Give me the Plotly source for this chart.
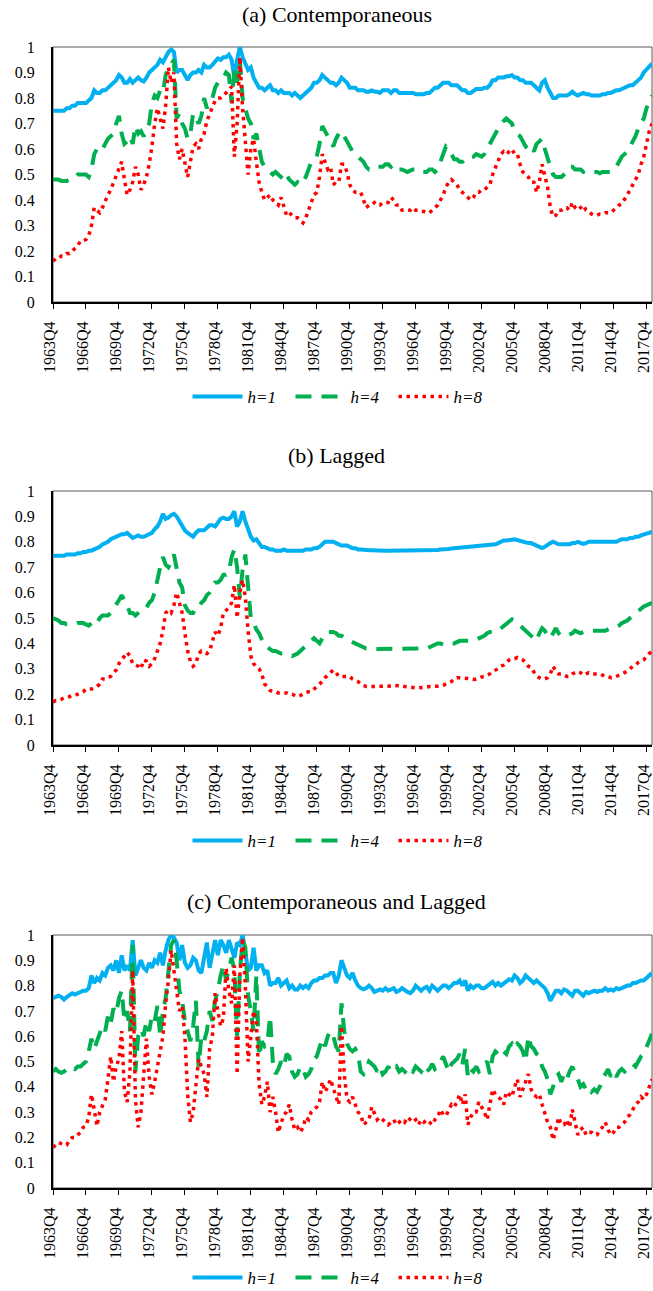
import plotly.graph_objects as go

# ---------------- data (quarterly, 1963Q4 .. 2018Q2) ----------------
tick_labels = ["1963Q4", "1966Q4", "1969Q4", "1972Q4", "1975Q4", "1978Q4", "1981Q4",
               "1984Q4", "1987Q4", "1990Q4", "1993Q4", "1996Q4", "1999Q4", "2002Q4",
               "2005Q4", "2008Q4", "2011Q4", "2014Q4", "2017Q4"]
series_names = ["<i>h=1</i>", "<i>h=4</i>", "<i>h=8</i>"]
panel_titles = ["(a) Contemporaneous", "(b) Lagged", "(c) Contemporaneous and Lagged"]

a_h1 = [0.75,0.75,0.75,0.75,0.75,0.76,0.76,0.77,0.77,0.78,0.78,0.78,
        0.78,0.79,0.80,0.83,0.82,0.82,0.83,0.83,0.84,0.85,0.86,0.87,
        0.89,0.88,0.86,0.86,0.875,0.86,0.87,0.88,0.87,0.865,0.88,0.90,
        0.91,0.92,0.93,0.95,0.94,0.96,0.98,0.99,0.98,0.90,0.91,0.91,
        0.89,0.87,0.89,0.90,0.90,0.91,0.90,0.93,0.92,0.92,0.93,0.94,
        0.955,0.95,0.96,0.96,0.97,0.95,0.88,0.95,1.00,0.96,0.93,0.91,
        0.92,0.88,0.86,0.84,0.84,0.83,0.84,0.85,0.83,0.83,0.82,0.83,
        0.82,0.82,0.82,0.81,0.82,0.81,0.80,0.81,0.82,0.83,0.84,0.86,
        0.86,0.87,0.89,0.88,0.87,0.86,0.86,0.85,0.86,0.88,0.87,0.86,
        0.84,0.84,0.84,0.83,0.83,0.83,0.825,0.825,0.83,0.825,0.825,0.82,
        0.83,0.83,0.83,0.82,0.83,0.83,0.82,0.82,0.82,0.82,0.82,0.82,
        0.815,0.815,0.815,0.815,0.82,0.82,0.83,0.84,0.84,0.85,0.86,0.86,
        0.86,0.85,0.85,0.85,0.84,0.83,0.83,0.82,0.82,0.83,0.835,0.835,
        0.835,0.84,0.84,0.85,0.87,0.87,0.88,0.88,0.88,0.885,0.885,0.89,
        0.88,0.88,0.87,0.87,0.86,0.86,0.86,0.85,0.84,0.83,0.86,0.87,
        0.84,0.82,0.80,0.80,0.81,0.81,0.81,0.81,0.815,0.825,0.815,0.81,
        0.815,0.82,0.815,0.815,0.81,0.81,0.81,0.81,0.815,0.815,0.82,0.82,
        0.825,0.83,0.83,0.835,0.84,0.845,0.85,0.85,0.86,0.87,0.88,0.90,
        0.91,0.92,0.935]

a_h4 = [0.48,0.48,0.48,0.475,0.475,0.475,0.48,0.49,0.49,0.50,0.50,0.50,
        0.50,0.49,0.52,0.58,0.60,0.61,0.60,0.62,0.64,0.65,0.66,0.70,
        0.73,0.66,0.62,0.63,0.65,0.62,0.69,0.66,0.67,0.65,0.67,0.70,
        0.78,0.81,0.80,0.83,0.82,0.89,0.92,0.93,0.95,0.72,0.74,0.70,
        0.68,0.64,0.66,0.74,0.72,0.70,0.73,0.80,0.76,0.78,0.80,0.84,
        0.86,0.87,0.88,0.90,0.89,0.78,0.91,0.86,0.95,0.80,0.76,0.72,
        0.70,0.64,0.66,0.60,0.55,0.53,0.52,0.51,0.50,0.51,0.50,0.49,
        0.48,0.50,0.48,0.47,0.46,0.47,0.46,0.47,0.49,0.52,0.55,0.56,
        0.57,0.62,0.69,0.67,0.65,0.63,0.61,0.64,0.66,0.67,0.65,0.63,
        0.61,0.59,0.58,0.57,0.56,0.55,0.53,0.52,0.52,0.52,0.53,0.53,
        0.53,0.54,0.54,0.53,0.54,0.53,0.52,0.52,0.515,0.51,0.515,0.52,
        0.52,0.51,0.51,0.51,0.51,0.52,0.52,0.51,0.52,0.55,0.58,0.61,
        0.60,0.58,0.56,0.56,0.55,0.55,0.56,0.56,0.57,0.57,0.58,0.575,
        0.57,0.58,0.60,0.62,0.64,0.66,0.68,0.70,0.71,0.72,0.71,0.70,
        0.67,0.66,0.65,0.63,0.61,0.60,0.61,0.59,0.62,0.63,0.64,0.60,
        0.56,0.53,0.50,0.49,0.49,0.49,0.50,0.51,0.53,0.53,0.52,0.52,
        0.52,0.51,0.515,0.51,0.51,0.51,0.51,0.505,0.51,0.51,0.51,0.51,
        0.52,0.53,0.55,0.57,0.58,0.59,0.61,0.63,0.65,0.68,0.70,0.72,
        0.76,0.79,0.81]

a_h8 = [0.16,0.17,0.17,0.18,0.18,0.19,0.19,0.20,0.21,0.22,0.24,0.24,
        0.245,0.26,0.30,0.37,0.36,0.35,0.37,0.40,0.42,0.44,0.47,0.50,
        0.52,0.55,0.48,0.42,0.44,0.47,0.53,0.50,0.44,0.46,0.49,0.54,
        0.61,0.70,0.76,0.72,0.68,0.77,0.92,0.86,0.90,0.62,0.56,0.60,
        0.55,0.49,0.55,0.61,0.62,0.60,0.64,0.66,0.71,0.74,0.76,0.79,
        0.80,0.80,0.81,0.82,0.83,0.845,0.57,0.70,0.96,0.76,0.62,0.50,
        0.60,0.64,0.55,0.47,0.43,0.40,0.41,0.42,0.40,0.39,0.38,0.41,
        0.37,0.34,0.35,0.34,0.33,0.33,0.32,0.31,0.33,0.36,0.40,0.42,
        0.43,0.49,0.58,0.55,0.52,0.53,0.46,0.47,0.47,0.54,0.54,0.51,
        0.46,0.44,0.43,0.43,0.43,0.40,0.37,0.38,0.38,0.39,0.38,0.38,
        0.39,0.39,0.39,0.41,0.40,0.38,0.38,0.36,0.36,0.36,0.36,0.37,
        0.36,0.36,0.355,0.355,0.35,0.35,0.36,0.37,0.38,0.40,0.42,0.45,
        0.47,0.48,0.47,0.46,0.44,0.43,0.42,0.41,0.40,0.41,0.43,0.43,
        0.44,0.44,0.45,0.46,0.50,0.53,0.56,0.58,0.59,0.58,0.59,0.60,
        0.58,0.58,0.54,0.51,0.50,0.49,0.47,0.47,0.43,0.47,0.54,0.50,
        0.45,0.37,0.335,0.34,0.36,0.36,0.37,0.37,0.36,0.39,0.37,0.36,
        0.37,0.38,0.36,0.355,0.345,0.34,0.34,0.345,0.345,0.35,0.35,0.35,
        0.36,0.37,0.38,0.385,0.40,0.42,0.44,0.46,0.48,0.50,0.54,0.57,
        0.62,0.67,0.70]

b_h1 = [0.745,0.745,0.745,0.745,0.745,0.75,0.75,0.75,0.75,0.755,0.755,0.76,
        0.76,0.765,0.765,0.77,0.775,0.78,0.79,0.795,0.80,0.81,0.815,0.82,
        0.825,0.83,0.83,0.835,0.825,0.815,0.82,0.825,0.82,0.82,0.825,0.83,
        0.835,0.85,0.86,0.88,0.91,0.89,0.895,0.905,0.91,0.90,0.88,0.86,
        0.845,0.835,0.825,0.82,0.835,0.845,0.845,0.845,0.855,0.865,0.865,0.86,
        0.875,0.89,0.895,0.89,0.89,0.90,0.92,0.86,0.88,0.92,0.88,0.845,
        0.82,0.805,0.81,0.795,0.78,0.78,0.775,0.77,0.77,0.765,0.765,0.765,
        0.77,0.765,0.765,0.765,0.765,0.765,0.765,0.765,0.77,0.77,0.77,0.775,
        0.775,0.78,0.79,0.80,0.80,0.80,0.80,0.795,0.79,0.785,0.785,0.785,
        0.78,0.775,0.775,0.77,0.77,0.768,0.767,0.767,0.767,0.766,0.766,0.766,
        0.766,0.765,0.765,0.765,0.765,0.765,0.765,0.765,0.765,0.765,0.765,0.766,
        0.766,0.766,0.766,0.767,0.767,0.767,0.768,0.768,0.768,0.77,0.77,0.772,
        0.772,0.774,0.775,0.775,0.776,0.776,0.777,0.778,0.78,0.78,0.78,0.782,
        0.783,0.784,0.785,0.786,0.787,0.79,0.795,0.80,0.805,0.805,0.805,0.808,
        0.81,0.808,0.805,0.80,0.798,0.795,0.795,0.79,0.785,0.78,0.775,0.78,
        0.79,0.795,0.80,0.795,0.79,0.79,0.79,0.79,0.79,0.795,0.795,0.80,
        0.795,0.792,0.795,0.80,0.80,0.80,0.80,0.80,0.80,0.80,0.80,0.80,
        0.80,0.80,0.805,0.81,0.81,0.81,0.815,0.815,0.82,0.82,0.825,0.83,
        0.832,0.835,0.84]

b_h4 = [0.50,0.495,0.49,0.48,0.48,0.475,0.475,0.475,0.475,0.48,0.48,0.48,
        0.475,0.47,0.48,0.47,0.48,0.50,0.51,0.51,0.51,0.52,0.535,0.55,
        0.57,0.59,0.57,0.55,0.52,0.52,0.51,0.52,0.53,0.53,0.54,0.56,
        0.57,0.60,0.66,0.70,0.74,0.71,0.70,0.72,0.75,0.70,0.64,0.62,
        0.55,0.53,0.52,0.52,0.54,0.54,0.56,0.57,0.59,0.60,0.62,0.64,
        0.64,0.65,0.67,0.67,0.68,0.74,0.77,0.70,0.58,0.69,0.75,0.62,
        0.50,0.48,0.455,0.44,0.41,0.39,0.385,0.375,0.37,0.37,0.365,0.36,
        0.36,0.355,0.355,0.35,0.355,0.36,0.37,0.38,0.39,0.40,0.41,0.42,
        0.41,0.40,0.42,0.44,0.445,0.445,0.445,0.44,0.43,0.43,0.42,0.415,
        0.41,0.405,0.40,0.395,0.39,0.385,0.38,0.38,0.378,0.378,0.378,0.378,
        0.378,0.378,0.378,0.378,0.38,0.38,0.38,0.38,0.38,0.38,0.38,0.38,
        0.38,0.38,0.38,0.38,0.38,0.385,0.39,0.395,0.40,0.40,0.395,0.395,
        0.40,0.40,0.40,0.405,0.41,0.41,0.41,0.41,0.41,0.41,0.415,0.42,
        0.425,0.43,0.44,0.445,0.445,0.445,0.45,0.46,0.47,0.48,0.49,0.495,
        0.49,0.48,0.47,0.46,0.45,0.44,0.43,0.42,0.41,0.44,0.46,0.45,
        0.43,0.42,0.44,0.46,0.44,0.43,0.43,0.43,0.435,0.44,0.45,0.445,
        0.44,0.445,0.45,0.45,0.45,0.45,0.45,0.45,0.45,0.45,0.455,0.46,
        0.46,0.465,0.47,0.48,0.485,0.49,0.50,0.51,0.52,0.53,0.54,0.545,
        0.55,0.555,0.56]

b_h8 = [0.17,0.175,0.175,0.18,0.185,0.185,0.19,0.195,0.195,0.20,0.205,0.21,
        0.22,0.22,0.22,0.225,0.23,0.24,0.26,0.26,0.265,0.27,0.285,0.295,
        0.32,0.335,0.35,0.365,0.35,0.32,0.315,0.31,0.30,0.335,0.33,0.31,
        0.32,0.34,0.37,0.40,0.45,0.52,0.53,0.52,0.55,0.60,0.56,0.52,
        0.44,0.37,0.33,0.31,0.32,0.36,0.37,0.365,0.36,0.37,0.41,0.445,
        0.43,0.46,0.52,0.53,0.54,0.56,0.63,0.50,0.60,0.65,0.58,0.45,
        0.35,0.32,0.31,0.30,0.28,0.24,0.23,0.215,0.21,0.21,0.205,0.205,
        0.205,0.205,0.20,0.20,0.195,0.19,0.195,0.20,0.205,0.21,0.21,0.22,
        0.23,0.24,0.25,0.265,0.275,0.285,0.295,0.285,0.27,0.27,0.27,0.27,
        0.27,0.26,0.255,0.25,0.24,0.235,0.23,0.23,0.23,0.23,0.23,0.23,
        0.23,0.23,0.23,0.232,0.235,0.235,0.235,0.232,0.23,0.228,0.228,0.226,
        0.225,0.225,0.225,0.225,0.228,0.23,0.23,0.232,0.232,0.232,0.235,0.24,
        0.245,0.25,0.26,0.265,0.265,0.265,0.265,0.262,0.26,0.258,0.26,0.265,
        0.268,0.27,0.275,0.28,0.29,0.295,0.30,0.31,0.315,0.325,0.335,0.34,
        0.34,0.345,0.34,0.335,0.325,0.31,0.305,0.29,0.27,0.265,0.26,0.26,
        0.265,0.28,0.31,0.29,0.28,0.28,0.275,0.27,0.27,0.28,0.285,0.29,
        0.285,0.275,0.28,0.285,0.28,0.28,0.28,0.28,0.275,0.27,0.27,0.265,
        0.265,0.27,0.275,0.28,0.285,0.29,0.30,0.31,0.315,0.325,0.33,0.335,
        0.35,0.36,0.37]

c_h1 = [0.75,0.755,0.76,0.755,0.745,0.755,0.765,0.77,0.765,0.77,0.775,0.78,
        0.78,0.79,0.84,0.81,0.83,0.82,0.85,0.84,0.87,0.88,0.86,0.90,
        0.85,0.92,0.86,0.88,0.86,0.98,0.84,0.87,0.90,0.87,0.86,0.89,
        0.87,0.90,0.89,0.93,0.88,0.94,0.98,1.00,0.99,0.97,0.90,0.96,
        0.89,0.87,0.88,0.91,0.90,0.86,0.85,0.91,0.97,0.87,0.93,0.98,
        0.92,0.98,0.96,0.93,0.98,0.94,0.91,0.97,0.96,1.00,0.94,0.86,
        0.87,0.95,0.86,0.88,0.88,0.85,0.86,0.80,0.81,0.81,0.83,0.80,
        0.81,0.82,0.79,0.80,0.785,0.785,0.80,0.79,0.80,0.79,0.81,0.82,
        0.82,0.83,0.83,0.84,0.84,0.85,0.85,0.81,0.84,0.90,0.87,0.84,
        0.83,0.85,0.82,0.80,0.79,0.785,0.79,0.80,0.79,0.775,0.78,0.785,
        0.78,0.79,0.78,0.785,0.79,0.775,0.78,0.79,0.78,0.775,0.77,0.78,
        0.80,0.79,0.78,0.79,0.795,0.78,0.80,0.79,0.78,0.79,0.80,0.80,
        0.79,0.80,0.81,0.81,0.82,0.80,0.82,0.78,0.80,0.79,0.80,0.80,
        0.79,0.79,0.80,0.81,0.815,0.80,0.81,0.80,0.81,0.82,0.825,0.82,
        0.84,0.83,0.81,0.82,0.84,0.83,0.82,0.81,0.82,0.81,0.80,0.79,
        0.77,0.74,0.76,0.78,0.78,0.77,0.785,0.78,0.77,0.76,0.78,0.78,
        0.77,0.76,0.775,0.77,0.775,0.78,0.775,0.78,0.78,0.79,0.78,0.785,
        0.78,0.79,0.785,0.79,0.795,0.80,0.80,0.81,0.81,0.815,0.82,0.82,
        0.83,0.845,0.85]

c_h4 = [0.46,0.47,0.46,0.455,0.46,0.47,0.48,0.475,0.47,0.48,0.48,0.49,
        0.50,0.54,0.59,0.55,0.58,0.60,0.64,0.62,0.68,0.65,0.71,0.69,
        0.75,0.78,0.66,0.70,0.62,0.96,0.46,0.60,0.63,0.60,0.66,0.62,
        0.68,0.66,0.72,0.60,0.70,0.75,0.86,0.96,0.98,0.90,0.78,0.74,
        0.66,0.62,0.58,0.64,0.74,0.48,0.60,0.58,0.62,0.70,0.66,0.74,
        0.78,0.84,0.88,0.82,0.86,0.91,0.86,0.60,0.85,0.98,0.95,0.76,
        0.70,0.62,0.84,0.52,0.58,0.56,0.57,0.68,0.50,0.45,0.47,0.50,
        0.48,0.53,0.52,0.46,0.44,0.45,0.48,0.47,0.44,0.45,0.47,0.51,
        0.52,0.55,0.59,0.56,0.60,0.62,0.60,0.56,0.54,0.73,0.62,0.57,
        0.55,0.54,0.55,0.53,0.46,0.45,0.47,0.50,0.49,0.48,0.46,0.48,
        0.45,0.46,0.48,0.46,0.47,0.48,0.46,0.47,0.46,0.45,0.47,0.46,
        0.48,0.47,0.46,0.48,0.46,0.47,0.49,0.47,0.48,0.50,0.52,0.49,
        0.46,0.49,0.50,0.51,0.53,0.49,0.55,0.44,0.47,0.46,0.48,0.46,
        0.47,0.49,0.50,0.45,0.52,0.54,0.53,0.52,0.54,0.53,0.56,0.57,
        0.55,0.57,0.56,0.54,0.50,0.60,0.56,0.55,0.53,0.52,0.48,0.46,
        0.43,0.37,0.40,0.44,0.45,0.42,0.45,0.43,0.46,0.48,0.45,0.43,
        0.40,0.41,0.39,0.40,0.38,0.39,0.38,0.40,0.43,0.45,0.47,0.44,
        0.46,0.44,0.46,0.47,0.46,0.47,0.48,0.49,0.48,0.50,0.52,0.53,
        0.56,0.58,0.61]

c_h8 = [0.16,0.17,0.18,0.175,0.17,0.17,0.19,0.20,0.20,0.21,0.22,0.24,
        0.245,0.28,0.37,0.31,0.245,0.30,0.33,0.35,0.43,0.52,0.42,0.48,
        0.51,0.62,0.38,0.34,0.46,0.86,0.35,0.24,0.30,0.44,0.59,0.44,
        0.37,0.42,0.48,0.53,0.60,0.73,0.82,0.94,0.86,0.76,0.70,0.72,
        0.60,0.37,0.26,0.30,0.40,0.51,0.48,0.45,0.36,0.55,0.60,0.77,
        0.70,0.64,0.67,0.87,0.78,0.73,0.88,0.45,0.84,0.99,0.80,0.50,
        0.60,0.70,0.66,0.41,0.33,0.36,0.42,0.30,0.36,0.30,0.22,0.26,
        0.29,0.30,0.33,0.27,0.23,0.24,0.22,0.24,0.28,0.27,0.30,0.31,
        0.32,0.34,0.42,0.38,0.40,0.43,0.39,0.36,0.33,0.64,0.45,0.35,
        0.34,0.36,0.33,0.30,0.29,0.25,0.26,0.27,0.32,0.29,0.27,0.28,
        0.27,0.26,0.25,0.26,0.27,0.25,0.26,0.27,0.26,0.28,0.27,0.26,
        0.27,0.25,0.27,0.26,0.27,0.26,0.25,0.27,0.28,0.31,0.29,0.285,
        0.31,0.33,0.32,0.34,0.37,0.33,0.37,0.25,0.28,0.30,0.30,0.34,
        0.32,0.30,0.27,0.34,0.39,0.37,0.36,0.35,0.33,0.38,0.37,0.36,
        0.40,0.43,0.36,0.39,0.41,0.45,0.39,0.37,0.36,0.37,0.33,0.29,
        0.26,0.24,0.19,0.23,0.28,0.25,0.25,0.27,0.24,0.31,0.26,0.21,
        0.23,0.24,0.21,0.22,0.22,0.21,0.21,0.23,0.24,0.26,0.23,0.21,
        0.22,0.24,0.24,0.25,0.26,0.28,0.29,0.31,0.33,0.34,0.36,0.35,
        0.37,0.40,0.43]

panels = [[a_h1, a_h4, a_h8], [b_h1, b_h4, b_h8], [c_h1, c_h4, c_h8]]

# ---------------- styling ----------------
W, H = 653, 1291
ML, MR = 53, 1
FONT = "Liberation Serif"
colors = ["#00B0F0", "#00B050", "#FF0000"]
widths = [4, 4, 3.5]
dashes = ["solid", "16px,10px", "3.5px,4.5px"]

# plot-area pixel positions (top, bottom) per panel
panel_px = [(47, 302), (491, 745), (935, 1188)]
title_px = [14, 455, 901]
legend_px = [397, 841, 1278]

def py(px):
    return 1 - px / H

def pxx(px):
    return (px - ML) / (W - ML - MR)

fig = go.Figure()
layout = dict(
    width=W, height=H,
    margin=dict(l=ML, r=MR, t=0, b=0, autoexpand=False),
    paper_bgcolor="white", plot_bgcolor="white",
    font=dict(family=FONT, size=16, color="black"),
    showlegend=True,
    annotations=[], shapes=[],
)

xtickvals = [12 * k for k in range(len(tick_labels))]
ytickvals = [round(0.1 * k, 1) for k in range(11)]
yticktext = ["0"] + [f"{v:g}" for v in ytickvals[1:-1]] + ["1"]

for p in range(3):
    sfx = "" if p == 0 else str(p + 1)
    xa, ya = "x" + sfx, "y" + sfx
    lg = "legend" + sfx
    for s in range(3):
        vals = panels[p][s]
        fig.add_trace(go.Scatter(
            x=list(range(len(vals))), y=vals, mode="lines",
            name=series_names[s],
            line=dict(color=colors[s], width=widths[s], dash=dashes[s]),
            xaxis=xa, yaxis=ya, legend=lg, hoverinfo="skip",
        ))
    top, bot = panel_px[p]
    layout["xaxis" + sfx] = dict(
        domain=[0, 1], anchor=ya, range=[0, 218], automargin=False,
        tickmode="array", tickvals=xtickvals, ticktext=tick_labels,
        tickangle=-90, ticks="outside", ticklen=5, tickwidth=1, tickcolor="black",
        showline=True, linecolor="black", linewidth=2,
        showgrid=False, zeroline=False, ticklabelstandoff=6,
        ticklabelshift=-3, ticklabeloverflow="allow",
        tickfont=dict(family=FONT, size=16, color="black"), fixedrange=True,
    )
    layout["yaxis" + sfx] = dict(
        domain=[py(bot), py(top)], anchor=xa, range=[0, 1], automargin=False,
        tickmode="array", tickvals=ytickvals, ticktext=yticktext,
        ticks="", showline=True, linecolor="black", linewidth=2,
        showgrid=False, zeroline=False, ticklabelstandoff=13,
        ticklabeloverflow="allow",
        tickfont=dict(family=FONT, size=16, color="black"), fixedrange=True,
    )
    layout[lg] = dict(
        orientation="h", x=pxx(342), xanchor="center",
        y=py(legend_px[p]), yanchor="middle",
        font=dict(family=FONT, size=17, color="black"),
        bgcolor="rgba(0,0,0,0)", itemwidth=50, tracegroupgap=0,
        entrywidth=38, entrywidthmode="pixels",
    )
    layout["annotations"].append(dict(
        text=panel_titles[p], xref="paper", yref="paper",
        x=pxx(336.5), y=py(title_px[p]), xanchor="center", yanchor="middle",
        showarrow=False, font=dict(family=FONT, size=22, color="black"),
    ))
    layout["shapes"].append(dict(
        type="rect", xref=xa + " domain", yref=ya + " domain",
        x0=0, x1=1, y0=0, y1=1, layer="below",
        line=dict(color="#595959", width=1), fillcolor="rgba(0,0,0,0)",
    ))

fig.update_layout(**layout)
fig.write_html(
    "out.html",
    config={"displayModeBar": False, "staticPlot": True},
    post_script="document.body.style.margin='0px';document.body.style.overflow='hidden';",
)
